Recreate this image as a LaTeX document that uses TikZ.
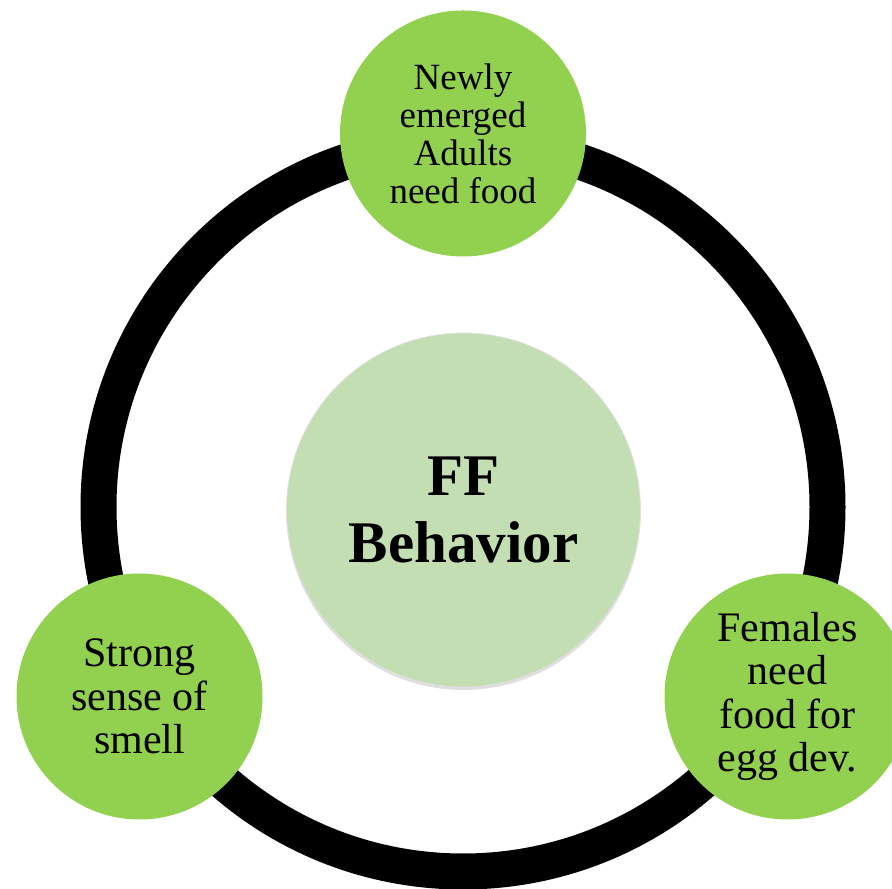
\documentclass[tikz,border=0pt]{standalone}
\usepackage{fontspec}
\setmainfont{Liberation Serif}
\usetikzlibrary{shadows}
\definecolor{leafgreen}{RGB}{146,208,80}
\definecolor{palegreen}{RGB}{196,222,180}
\tikzset{
  ringstyle/.style={circle, draw=black, line width=36pt, minimum size=729pt, inner sep=0pt},
  outerbubble/.style={circle, fill=leafgreen, minimum size=246pt, inner sep=0pt, align=center, text=black},
  hubbubble/.style={circle, fill=palegreen, draw=black!12, line width=0.8pt, minimum size=354pt, inner sep=0pt, align=center,
    drop shadow={opacity=0.25, shadow xshift=0pt, shadow yshift=-3pt}},
}
\begin{document}
\begin{tikzpicture}[x=1pt,y=1pt]
\useasboundingbox (0,0) rectangle (892,889);
\clip (0,0) rectangle (892,889);
\node[ringstyle] (ring) at (463,382) {};
\node[hubbubble, font=\bfseries\fontsize{59}{67}\selectfont] (hub) at (463.5,379) {FF\\Behavior};
\node[outerbubble, font=\fontsize{37}{38}\selectfont] (top) at (463,755.5) {Newly\\emerged\\Adults\\need food};
\node[outerbubble, font=\fontsize{42}{43.5}\selectfont] (left) at (139.5,192.5) {Strong\\sense of\\smell};
\node[outerbubble, font=\fontsize{42}{43.5}\selectfont] (right) at (787.5,192.5) {Females\\need\\food for\\egg dev.};
\end{tikzpicture}
\end{document}
